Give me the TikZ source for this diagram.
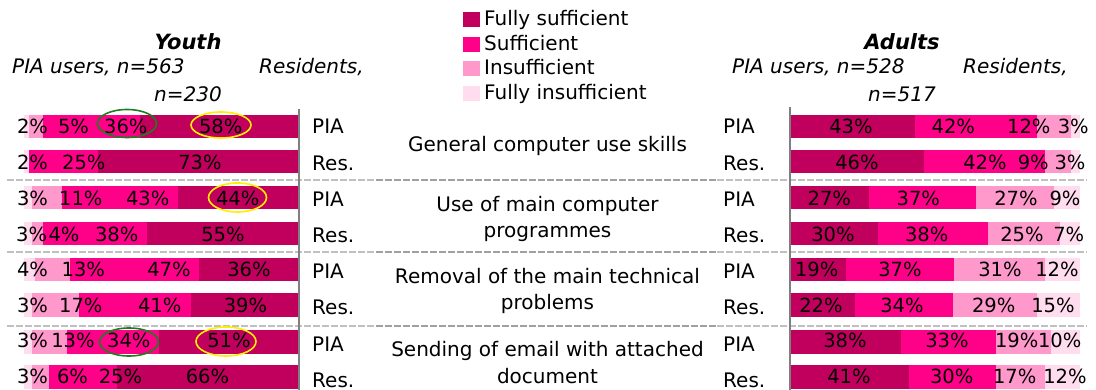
\documentclass[tikz,border=0pt]{standalone}
\usepackage{fontspec}
\setmainfont{DejaVu Sans}
\usetikzlibrary{shapes.geometric}
\definecolor{cfs}{HTML}{C0005C}
\definecolor{csu}{HTML}{FF0088}
\definecolor{cin}{HTML}{FF99CC}
\definecolor{cfi}{HTML}{FFDDEE}
\definecolor{gridlight}{HTML}{C0C0C0}
\definecolor{griddark}{HTML}{A0A0A0}
\definecolor{axisgray}{HTML}{7F7F7F}
\definecolor{ringgreen}{HTML}{1E7D1E}
\definecolor{ringyellow}{HTML}{FFF000}
\tikzset{
  pct/.style={font=\fontsize{19.5}{22}\selectfont, inner sep=0pt, text height=14pt, text depth=0pt, anchor=center},
  rowlab/.style={font=\fontsize{20}{24}\selectfont, inner sep=0pt, anchor=base west},
  cat/.style={font=\fontsize{20}{26.5}\selectfont, inner sep=0pt, align=center, anchor=base},
  ttl/.style={font=\fontsize{21}{24}\selectfont\bfseries\itshape, inner sep=0pt, anchor=base},
  subw/.style={font=\fontsize{20}{24}\selectfont\itshape, inner sep=0pt, anchor=base west},
  subc/.style={font=\fontsize{20}{24}\selectfont\itshape, inner sep=0pt, anchor=base},
  legtext/.style={font=\fontsize{20}{24}\selectfont, inner sep=0pt, anchor=base west},
  keybox/.style={minimum width=17pt, minimum height=15pt, inner sep=0pt, anchor=north west},
  sepline/.style={line width=1.8pt, dash pattern=on 7pt off 2pt},
  axisline/.style={draw=axisgray, line width=2pt},
  ring/.style={line width=1.6pt},
}
\begin{document}
\begin{tikzpicture}[x=1pt,y=-1pt]
\useasboundingbox (0,0) rectangle (1096,390);

% ---------- legend ----------
\foreach \c/\txt [count=\i] in {cfs/Fully sufficient, csu/Sufficient, cin/Insufficient, cfi/Fully insufficient} {
  \pgfmathsetmacro\yy{12+24.6*(\i-1)}
  \node[keybox, fill=\c] (key\i) at (463,\yy) {};
  \node[legtext] (legt\i) at (484,\yy+13.5) {\txt};
}

% ---------- titles ----------
\node[ttl] (youth) at (188,50) {Youth};
\node[subw] (ypia) at (12,74) {PIA users, n=563};
\node[subw] (yres) at (259,74) {Residents,};
\node[subc] (yn) at (188,101.5) {n=230};
\node[ttl] (adults) at (902,50) {Adults};
\node[subw] (apia) at (732,74) {PIA users, n=528};
\node[subw] (ares) at (963,74) {Residents,};
\node[subc] (an) at (902,101.5) {n=517};

% ---------- separators ----------
\foreach \yy in {180,252,326} {
  \draw[sepline, gridlight] (7,\yy) -- (376,\yy);
  \draw[sepline, griddark] (376,\yy) -- (717,\yy);
  \draw[sepline, gridlight] (717,\yy) -- (1087,\yy);
}

% ---------- youth bars (right-aligned on the axis) ----------
\foreach \t/\a/\b/\c/\d in {115/2/5/36/58, 150/2/0/25/73, 186/3/11/43/44, 222/3/4/38/55,
                            258/4/13/47/36, 293.5/3/17/41/39, 330/3/13/34/51, 365/3/6/25/66} {
  \pgfmathsetmacro\s{273.5/(\a+\b+\c+\d)}
  \pgfmathsetmacro\xa{24+\s*\a}
  \pgfmathsetmacro\xb{\xa+\s*\b}
  \pgfmathsetmacro\xc{\xb+\s*\c}
  \fill[cfi] (24,\t) rectangle (\xa,\t+23.5);
  \fill[cin] (\xa,\t) rectangle (\xb,\t+23.5);
  \fill[csu] (\xb,\t) rectangle (\xc,\t+23.5);
  \fill[cfs] (\xc,\t) rectangle (297.5,\t+23.5);
}

% ---------- adult bars (left-aligned on the axis) ----------
\foreach \t/\a/\b/\c/\d in {115/43/42/12/3, 150/46/42/9/3, 186/27/37/27/9, 222/30/38/25/7,
                            258/19/37/31/12, 293.5/22/34/29/15, 330/38/33/19/10, 365/41/30/17/12} {
  \pgfmathsetmacro\s{289/(\a+\b+\c+\d)}
  \pgfmathsetmacro\xa{791+\s*\a}
  \pgfmathsetmacro\xb{\xa+\s*\b}
  \pgfmathsetmacro\xc{\xb+\s*\c}
  \fill[cfs] (791,\t) rectangle (\xa,\t+23.5);
  \fill[csu] (\xa,\t) rectangle (\xb,\t+23.5);
  \fill[cin] (\xb,\t) rectangle (\xc,\t+23.5);
  \fill[cfi] (\xc,\t) rectangle (1080,\t+23.5);
}

% ---------- axes ----------
\draw[axisline] (299,109) -- (299,390);
\draw[axisline] (790,107) -- (790,390);

% ---------- youth value labels ----------
\foreach \x/\v [count=\i] in {32.5/2, 73.5/5, 125.8/36, 220.7/58} \node[pct] (ya\i) at (\x,126.5) {\v\%};
\foreach \x/\v [count=\i] in {32.5/2, 83.8/25, 200/73} \node[pct] (yb\i) at (\x,162.5) {\v\%};
\foreach \x/\v [count=\i] in {32.5/3, 80.8/11, 147.7/43, 237.7/44} \node[pct] (yc\i) at (\x,199) {\v\%};
\foreach \x/\v [count=\i] in {31.7/3, 64/4, 116.7/38, 223/55} \node[pct] (yd\i) at (\x,234.5) {\v\%};
\foreach \x/\v [count=\i] in {32.5/4, 83.3/13, 169/47, 249/36} \node[pct] (ye\i) at (\x,270) {\v\%};
\foreach \x/\v [count=\i] in {32.5/3, 80.8/17, 159.7/41, 245.5/39} \node[pct] (yf\i) at (\x,305.5) {\v\%};
\foreach \x/\v [count=\i] in {32.5/3, 73/13, 128.8/34, 229/51} \node[pct] (yg\i) at (\x,341) {\v\%};
\foreach \x/\v [count=\i] in {32.5/3, 72.5/6, 120.5/25, 207.5/66} \node[pct] (yh\i) at (\x,376.5) {\v\%};

% ---------- adult value labels ----------
\foreach \x/\v [count=\i] in {851/43, 953.3/42, 1028.8/12, 1073.3/3} \node[pct] (aa\i) at (\x,126.5) {\v\%};
\foreach \x/\v [count=\i] in {857/46, 985/42, 1033.3/9, 1070/3} \node[pct] (ab\i) at (\x,162.5) {\v\%};
\foreach \x/\v [count=\i] in {829.3/27, 918.3/37, 1016/27, 1065/9} \node[pct] (ac\i) at (\x,198.5) {\v\%};
\foreach \x/\v [count=\i] in {833/30, 926.7/38, 1022/25, 1068.8/7} \node[pct] (ad\i) at (\x,234.5) {\v\%};
\foreach \x/\v [count=\i] in {816.7/19, 900/37, 1000/31, 1057/12} \node[pct] (ae\i) at (\x,270) {\v\%};
\foreach \x/\v [count=\i] in {821/22, 902/34, 993.7/29, 1053/15} \node[pct] (af\i) at (\x,305.5) {\v\%};
\foreach \x/\v [count=\i] in {845/38, 947/33, 1016.7/19, 1059.7/10} \node[pct] (ag\i) at (\x,341) {\v\%};
\foreach \x/\v [count=\i] in {849/41, 951.7/30, 1014.7/17, 1065/12} \node[pct] (ah\i) at (\x,377) {\v\%};

% ---------- row labels ----------
\foreach \yy/\lab [count=\i] in {134/PIA, 170.5/Res., 206.5/PIA, 242.5/Res., 279/PIA, 315/Res., 352/PIA, 387/Res.} {
  \node[rowlab] (yl\i) at (312,\yy) {\lab};
  \node[rowlab] (al\i) at (723,\yy) {\lab};
}

% ---------- category labels (base = baseline of the last line) ----------
\node[cat] (cat1) at (547.5,151.7) {General computer use skills};
\node[cat] (cat2) at (547.5,238) {Use of main computer\\programmes};
\node[cat] (cat3) at (547.5,310) {Removal of the main technical\\problems};
\node[cat] (cat4) at (547.5,383) {Sending of email with attached\\document};

% ---------- highlight rings ----------
\draw[ring, ringgreen] (127,123.5) ellipse [x radius=29.5, y radius=14];
\draw[ring, ringyellow] (221,125) ellipse [x radius=30, y radius=13];
\draw[ring, ringyellow] (237.5,197.5) ellipse [x radius=29, y radius=14.5];
\draw[ring, ringgreen] (129,342) ellipse [x radius=29.5, y radius=14];
\draw[ring, ringyellow] (226,341.5) ellipse [x radius=30, y radius=14.5];
\end{tikzpicture}
\end{document}
